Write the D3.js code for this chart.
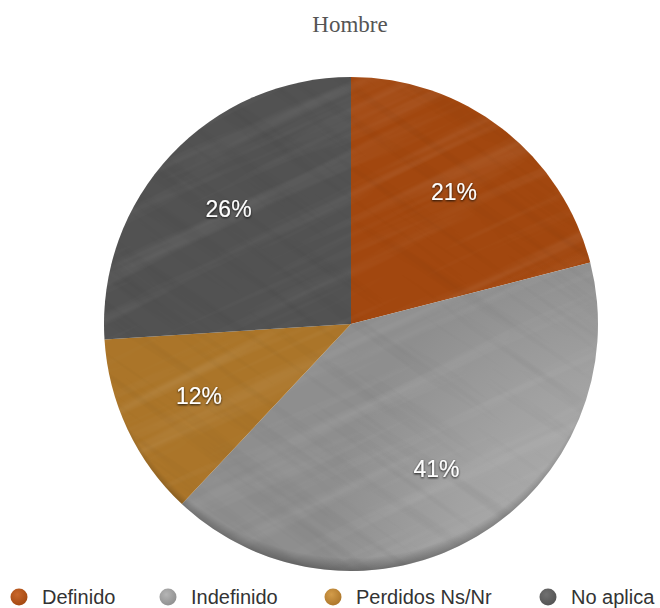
<!DOCTYPE html>
<html>
<head>
<meta charset="utf-8">
<script src="https://cdn.jsdelivr.net/npm/d3@7/dist/d3.min.js"></script>
<style>
  html, body { margin: 0; padding: 0; background: #fff; }
  svg { display: block; }
</style>
</head>
<body>
<div id="chart"></div>
<script>
// Share of respondents by category (Hombre)
const categories = ["Definido", "Indefinido", "Perdidos Ns/Nr", "No aplica"];
const values = [21, 41, 12, 26];
const baseColors = ["#bb5a20", "#a2a2a2", "#c48c3c", "#616161"];
const lightColors = ["#c9672c", "#b5b5b5", "#d39c4a", "#707070"];
const darkColors = ["#a2470f", "#8e8e8e", "#ab7529", "#525252"];
const legendX = [19, 168, 333, 548];

const W = 660, H = 608;
const cx = 351, cy = 324, R = 247;

const svg = d3.select("#chart").append("svg")
  .attr("width", W).attr("height", H);

const defs = svg.append("defs");

// Brushed-metal grain: stretched turbulence blended over each slice colour
function grainFilter(id, freq, seed, rgb, alpha) {
  const f = defs.append("filter").attr("id", id)
    .attr("x", 0).attr("y", 0).attr("width", 1).attr("height", 1);
  f.append("feTurbulence")
    .attr("type", "fractalNoise")
    .attr("baseFrequency", freq)
    .attr("numOctaves", 3).attr("seed", seed).attr("result", "noise");
  f.append("feColorMatrix").attr("in", "noise").attr("type", "matrix")
    .attr("values", `0 0 0 0 ${rgb}  0 0 0 0 ${rgb}  0 0 0 0 ${rgb}  0 0 0 ${alpha[0]} ${alpha[1]}`)
    .attr("result", "tone");
  f.append("feComposite").attr("in", "tone").attr("in2", "SourceGraphic").attr("operator", "in");
}
grainFilter("grain", "0.003 0.06", 7, 1, [0.9, -0.42]);
grainFilter("grainDark", "0.004 0.08", 3, 0, [0.8, -0.4]);

// Per-slice gradient for a soft metallic sheen
categories.forEach((c, i) => {
  const g = defs.append("radialGradient").attr("id", "sheen" + i)
    .attr("gradientUnits", "userSpaceOnUse")
    .attr("cx", cx - 60).attr("cy", cy - 80).attr("r", R * 1.3);
  g.append("stop").attr("offset", "0%").attr("stop-color", lightColors[i]);
  g.append("stop").attr("offset", "60%").attr("stop-color", baseColors[i]);
  g.append("stop").attr("offset", "100%").attr("stop-color", darkColors[i]);
});

// Darkened rim along the lower edge
const rim = defs.append("radialGradient").attr("id", "rim")
  .attr("gradientUnits", "userSpaceOnUse")
  .attr("cx", cx).attr("cy", cy - 20).attr("r", R + 20);
rim.append("stop").attr("offset", "0.95").attr("stop-color", "#000").attr("stop-opacity", 0);
rim.append("stop").attr("offset", "1").attr("stop-color", "#000").attr("stop-opacity", 0.3);

defs.append("clipPath").attr("id", "pieClip")
  .append("circle").attr("cx", cx).attr("cy", cy).attr("r", R);

const shadow = defs.append("filter").attr("id", "txtShadow")
  .attr("x", "-30%").attr("y", "-30%").attr("width", "160%").attr("height", "160%");
shadow.append("feDropShadow").attr("dx", 0).attr("dy", 1).attr("stdDeviation", 1.3)
  .attr("flood-color", "#000").attr("flood-opacity", 0.9);

// Title
svg.append("text")
  .attr("x", 350).attr("y", 32)
  .attr("text-anchor", "middle")
  .attr("font-family", "'Liberation Serif', 'Times New Roman', serif")
  .attr("font-size", 23)
  .attr("fill", "#555")
  .text("Hombre");

const pie = d3.pie().sort(null).value(d => d)(values);
const arc = d3.arc().innerRadius(0).outerRadius(R);
const labelArc = d3.arc().innerRadius(R * 0.68).outerRadius(R * 0.68);

const g = svg.append("g").attr("transform", `translate(${cx},${cy})`);

g.selectAll("path.slice").data(pie).join("path")
  .attr("class", "slice")
  .attr("d", arc)
  .attr("fill", (d, i) => `url(#sheen${i})`);

// Grain overlays, clipped to the disc
const tex = svg.append("g").attr("clip-path", "url(#pieClip)");
tex.append("rect").attr("x", cx - R).attr("y", cy - R).attr("width", 2 * R).attr("height", 2 * R)
  .attr("fill", "#fff").attr("filter", "url(#grain)").attr("opacity", 0.25)
  .attr("transform", `rotate(-25 ${cx} ${cy})`);
tex.append("rect").attr("x", cx - R).attr("y", cy - R).attr("width", 2 * R).attr("height", 2 * R)
  .attr("fill", "#000").attr("filter", "url(#grainDark)").attr("opacity", 0.15)
  .attr("transform", `rotate(35 ${cx} ${cy})`);
svg.append("circle").attr("cx", cx).attr("cy", cy).attr("r", R).attr("fill", "url(#rim)");

// Percentage labels
g.selectAll("text.pct").data(pie).join("text")
  .attr("class", "pct")
  .attr("transform", d => `translate(${labelArc.centroid(d)})`)
  .attr("text-anchor", "middle")
  .attr("dy", "0.36em")
  .attr("font-family", "'Liberation Sans', Arial, Helvetica, sans-serif")
  .attr("font-size", 23)
  .attr("fill", "#fff")
  .attr("filter", "url(#txtShadow)")
  .text(d => d.data + "%");

// Legend
categories.forEach((c, i) => {
  const lg = defs.append("radialGradient").attr("id", "legendFill" + i)
    .attr("cx", "40%").attr("cy", "35%").attr("r", "70%");
  lg.append("stop").attr("offset", "0%").attr("stop-color", lightColors[i]);
  lg.append("stop").attr("offset", "100%").attr("stop-color", darkColors[i]);
});
const legend = svg.append("g").attr("class", "legend");
const items = legend.selectAll("g").data(categories).join("g")
  .attr("transform", (d, i) => `translate(${legendX[i]},597)`);
items.append("circle").attr("r", 8.5)
  .attr("fill", (d, i) => `url(#legendFill${i})`);
items.append("text")
  .attr("x", 23).attr("dy", "0.36em")
  .attr("font-family", "'Liberation Sans', Arial, Helvetica, sans-serif")
  .attr("font-size", 20)
  .attr("fill", "#333")
  .text(d => d);
</script>
</body>
</html>
